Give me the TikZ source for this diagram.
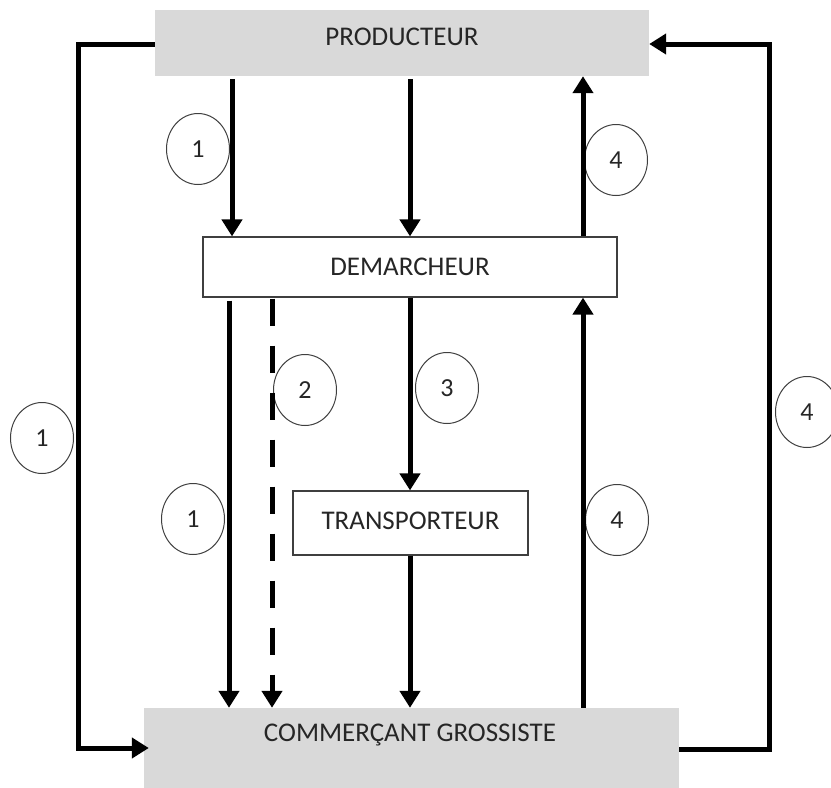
\documentclass[tikz,border=0pt]{standalone}
\usepackage{fontspec}
\setmainfont{Carlito}
\usetikzlibrary{arrows.meta,shapes.geometric}

\definecolor{boxgray}{HTML}{D9D9D9}
\definecolor{inkgray}{HTML}{262626}
\definecolor{rimgray}{HTML}{3F3F3F}

\tikzset{
  x=1pt, y=-1pt,
  lbl/.style={font=\fontsize{27}{32}\selectfont, text=inkgray, inner sep=0pt},
  graybox/.style={fill=boxgray, draw=none, inner sep=0pt},
  whitebox/.style={fill=white, draw=rimgray, line width=1.2pt, inner sep=0pt},
  flow/.style={line width=5pt, -{Triangle[length=17pt,width=20pt]}},
  flowline/.style={line width=5pt},
  dashflow/.style={flow, dash pattern=on 27pt off 20pt},
  num/.style={ellipse, draw=rimgray, line width=1pt, minimum width=63pt,
              minimum height=71pt, inner sep=0pt,
              font=\fontsize{26}{30}\selectfont, text=inkgray}
}

\begin{document}
\begin{tikzpicture}
\useasboundingbox (0,0) rectangle (831,788);

% boxes
\node[graybox, minimum width=494pt, minimum height=66pt] (prod) at (402,43) {};
\node[lbl] (prodtxt) at (402,37) {PRODUCTEUR};
\node[graybox, minimum width=535pt, minimum height=82pt] (comm) at (411.5,749) {};
\node[lbl] (commtxt) at (410,735) {COMMERÇANT GROSSISTE};
\node[whitebox, minimum width=414pt, minimum height=60pt] (dem) at (410,267) {};
\node[lbl] (demtxt) at (410,267) {DEMARCHEUR};
\node[whitebox, minimum width=235pt, minimum height=64pt] (trans) at (410.5,523) {};
\node[lbl] (transtxt) at (410.5,521) {TRANSPORTEUR};

% numbered markers
\node[num] (n1a) at (198,149) {1};
\node[num] (n4a) at (616,160) {4};
\node[num] (n2) at (305,390) {2};
\node[num] (n3) at (447,388) {3};
\node[num] (n1b) at (42,438) {1};
\node[num] (n1c) at (193,519) {1};
\node[num] (n4b) at (617,520) {4};
\node[num] (n4c) at (807,412) {4};

% vertical lanes
\coordinate (xa) at (232,0);
\coordinate (xb) at (410,0);
\coordinate (xc) at (583,0);
\coordinate (xd) at (229,0);
\coordinate (xe) at (272,0);
\coordinate (lx) at (78,400);
\coordinate (rx) at (769,400);

% producteur <-> demarcheur
\draw[flow] ([yshift=-3pt]prod.south -| xa) -- (dem.north -| xa);
\draw[flow] ([yshift=-3pt]prod.south -| xb) -- (dem.north -| xb);
\draw[flow] (dem.north -| xc) -- (prod.south -| xc);

% demarcheur -> commercant / transporteur
\draw[flow] ([yshift=-3pt]dem.south -| xd) -- (comm.north -| xd);
\draw[dashflow] ([yshift=-1pt]dem.south -| xe) -- (comm.north -| xe);
\draw[flow] (dem.south -| xb) -- (trans.north -| xb);
\draw[flow] (trans.south -| xb) -- (comm.north -| xb);
\draw[flow] (comm.north -| xc) -- (dem.south -| xc);

% outer loops
\draw[flow] ([yshift=-1pt]prod.west) -| (lx) |- ([xshift=5pt,yshift=1pt]comm.west);
\draw[flowline] (comm.east) -| (rx);
\draw[flow] (rx) |- ([yshift=-1pt]prod.east);
\end{tikzpicture}
\end{document}
